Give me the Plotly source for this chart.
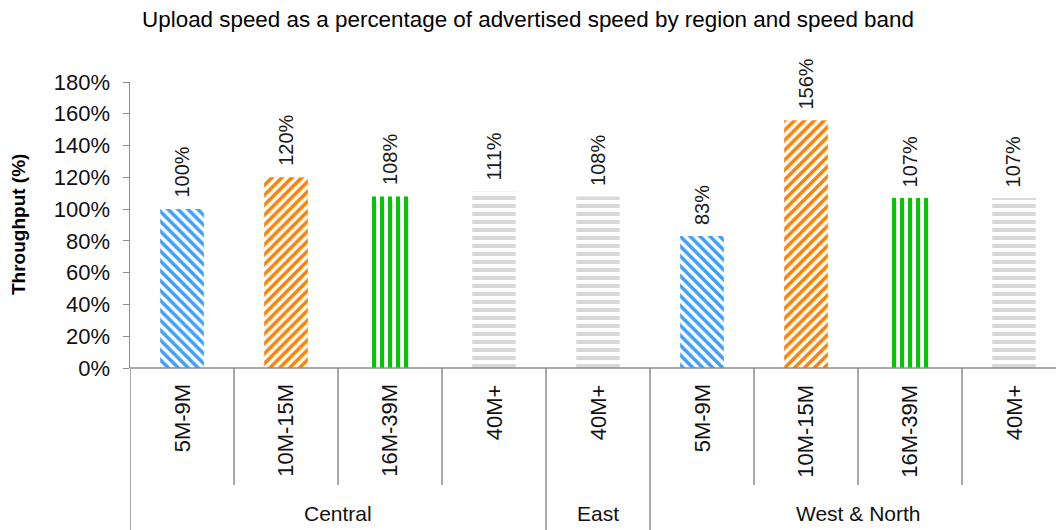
import plotly.graph_objects as go

regions = ["Central", "Central", "Central", "Central", "East",
           "West & North", "West & North", "West & North", "West & North"]
bands = ["5M-9M", "10M-15M", "16M-39M", "40M+", "40M+",
         "5M-9M", "10M-15M", "16M-39M", "40M+"]
values = [100, 120, 108, 111, 108, 83, 156, 107, 107]
ytick_values = [0, 20, 40, 60, 80, 100, 120, 140, 160, 180]

band_style = {
    "5M-9M": ("#3D9EFA", "\\", 7),
    "10M-15M": ("#FF8000", "/", 7),
    "16M-39M": ("#00C800", "|", 8),
    "40M+": ("#D9D9D9", "-", 8),
}

FONT = "Liberation Sans, Arial, sans-serif"
xs = list(range(len(values)))
fig = go.Figure()
fig.add_trace(go.Bar(
    x=xs, y=[v / 100 for v in values],
    width=0.42,
    marker=dict(
        color="white",
        line=dict(width=0),
        pattern=dict(
            shape=[band_style[b][1] for b in bands],
            fgcolor=[band_style[b][0] for b in bands],
            size=[band_style[b][2] for b in bands],
            bgcolor="white", fgopacity=1,
            solidity=0.5, fillmode="overlay",
        ),
    ),
    cliponaxis=False,
    showlegend=False,
    hoverinfo="skip",
))

AX = "#8C8C8C"
shapes = []
annotations = []
n = len(values)
# value labels above bars
for i, v in enumerate(values):
    annotations.append(dict(x=i, y=v / 100, xref="x", yref="y", text=f"{v}%", showarrow=False,
                            textangle=-90, xanchor="center", yanchor="bottom", yshift=9,
                            font=dict(family=FONT, size=20, color="#1a1a1a")))
# x axis baseline
shapes.append(dict(type="line", xref="paper", yref="paper", x0=0, x1=1, y0=0, y1=0,
                   line=dict(color=AX, width=1.5)))
# dividers
for i in range(n + 1):
    xpos = i - 0.5
    outer = (i == 0 or i == n or regions[i] != regions[i - 1])
    shapes.append(dict(type="line", xref="x", yref="paper", x0=xpos, x1=xpos,
                       y0=0, y1=(-0.6 if outer else -0.409),
                       line=dict(color=AX, width=1.5)))
for i, b in enumerate(bands):
    annotations.append(dict(x=i, y=-0.05, xref="x", yref="paper", text=b, showarrow=False,
                            textangle=-90, xanchor="center", yanchor="top",
                            font=dict(family=FONT, size=22, color="#111111")))
# region labels
groups = []
for i, r in enumerate(regions):
    if groups and groups[-1][0] == r:
        groups[-1][2] = i
    else:
        groups.append([r, i, i])
for r, a, b in groups:
    annotations.append(dict(x=(a + b) / 2, y=-0.51, xref="x", yref="paper", text=r, showarrow=False,
                            xanchor="center", yanchor="middle",
                            font=dict(family=FONT, size=21, color="#111111")))
# y axis title (paper coords: plot starts at 130px, width 926px)
annotations.append(dict(x=-112 / 926, y=0.5, xref="paper", yref="paper", text="<b>Throughput (%)</b>",
                        showarrow=False, textangle=-90, xanchor="center", yanchor="middle",
                        font=dict(family=FONT, size=19, color="#000000")))

fig.update_layout(
    width=1056, height=530,
    margin=dict(l=130, r=0, t=82, b=162, autoexpand=False),
    paper_bgcolor="white", plot_bgcolor="white",
    title=dict(text="Upload speed as a percentage of advertised speed by region and speed band",
               x=0.5, xanchor="center", y=0.964, yanchor="middle",
               font=dict(family=FONT, size=22.4, color="#000000")),
    xaxis=dict(range=[-0.5, 8.404], showticklabels=False, ticks="", showgrid=False,
               zeroline=False, showline=False, fixedrange=True, automargin=False),
    yaxis=dict(range=[0, 1.8], tickvals=[t / 100 for t in ytick_values],
               ticktext=[f"{t}%" for t in ytick_values],
               showgrid=False, zeroline=False, showline=True, automargin=False,
               linecolor=AX, linewidth=1.5, ticks="outside", ticklen=6, tickcolor=AX,
               ticklabelstandoff=8, fixedrange=True,
               tickfont=dict(family=FONT, size=22, color="#111111")),
    shapes=shapes, annotations=annotations,
)
fig.write_html("out.html", config={"displayModeBar": False, "staticPlot": True},
               post_script="document.body.style.margin='0';document.body.style.overflow='hidden';")
